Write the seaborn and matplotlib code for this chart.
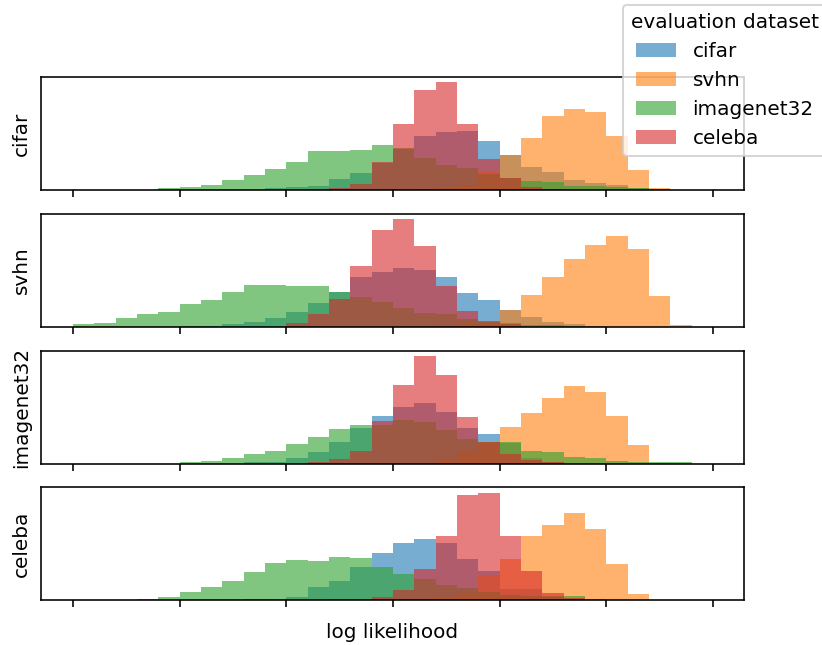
import matplotlib
matplotlib.use("Agg")
import matplotlib.pyplot as plt
from matplotlib.patches import Patch
import numpy as np
import pandas as pd
import seaborn as sns

rows = ["cifar", "svhn", "imagenet32", "celeba"]
datasets = ["cifar", "svhn", "imagenet32", "celeba"]
colors = ["#1f77b4", "#ff7f0e", "#2ca02c", "#d62728"]

# bin edges in log-likelihood units (ticks every 5 bins, no tick labels shown)
bin_edges = list(range(0, 31))
bin_centers = np.array(bin_edges[:-1]) + 0.5

# heights per bin, one list per (row, evaluation dataset)
cifar_row_cifar = [0, 0, 0, 0, 0, 0, 0, 0, 0, 1.5, 2.5, 3.8, 11.2, 16.8, 27, 41, 54.5, 57.8, 59.5, 48.8,
                   35, 22.8, 17.8, 9.5, 6.8, 4.5, 2, 0, 0, 0]
cifar_row_svhn = [0] * 16 + [0.5, 2, 5, 17.5, 35, 52.2, 74.5, 81.8, 78.8, 53.8, 20.2, 2.2, 0, 0]
cifar_row_imagenet32 = [0, 0, 0, 0, 1.8, 2.8, 5.2, 9.5, 15.2, 20.8, 28.2, 39.2, 39.2, 40.5, 44.8, 41.8, 32.2,
                        25.2, 22, 16, 12, 8.5, 7.8, 3.8, 3.8, 2.8, 1.8, 0.8, 0, 0]
cifar_row_celeba = [0] * 11 + [0.5, 1.5, 6.2, 27.8, 66.2, 100.5, 108.5, 66.2, 31.2, 12, 3, 1] + [0] * 7

svhn_row_cifar = [0, 0, 0, 0, 0, 0.5, 1, 2.7, 5, 8.3, 15, 23.7, 34.3, 49.3, 55, 58.3, 56.7, 49.3, 33.3, 26.7,
                  16.7, 10, 5, 2.7, 1.2, 0, 0, 0, 0, 0]
svhn_row_svhn = [0] * 17 + [0.8, 3, 6, 16.7, 32, 49.7, 67.7, 81.7, 90.3, 77.7, 31, 1.5, 0]
svhn_row_imagenet32 = [2.7, 4, 8.3, 12.7, 15, 22.3, 26.7, 35, 42, 42, 41, 40.7, 34.3, 29.3, 24.3, 18.3, 13.7,
                       12.7, 7.7, 5, 3.7, 1.5, 1.5, 0.8, 0, 0, 0, 0, 0, 0]
svhn_row_celeba = [0] * 10 + [3.7, 12.7, 27.7, 60.3, 96.7, 107.7, 80.3, 41, 16, 6, 2.7] + [0] * 9

imagenet32_row_cifar = [0] * 8 + [1.5, 2, 6, 11.6, 21.6, 36, 48.3, 57, 61, 52.6, 36.6, 30, 21, 6, 2] + [0] * 7
imagenet32_row_svhn = [0] * 16 + [1, 5, 12, 21.6, 37.6, 51, 67, 78.3, 72.6, 48.3, 19.3, 0.8, 0, 0]
imagenet32_row_imagenet32 = [0] * 5 + [1.8, 2.8, 6, 10, 12.6, 20, 27, 35.3, 39.6, 39.3, 44.3, 42.6, 34.3, 25.3,
                                       21.6, 21.6, 12.6, 11.6, 7, 6, 3, 2, 2, 1.5, 0]
imagenet32_row_celeba = [0] * 11 + [1.5, 4.3, 12.6, 43.6, 80, 109.3, 90, 47, 21.6, 9.3, 4, 1.2] + [0] * 7

celeba_row_cifar = [0] * 8 + [1, 1.5, 3.3, 14, 19.6, 33.6, 48, 58, 62, 58, 42, 29.6, 12, 12, 4, 1.2] + [0] * 6
celeba_row_svhn = [0] * 16 + [1, 3, 8, 25.3, 42, 64.6, 76, 87.6, 71.6, 36.6, 6.6, 0, 0, 0]
celeba_row_imagenet32 = [0, 0, 0, 1.8, 3.6, 8.3, 14, 19.6, 28.3, 38, 40.6, 39.3, 43.6, 42.3, 33.6, 27, 22, 15.3,
                         12.6, 8.6, 6, 5, 5, 5, 1.8, 0.8, 0, 0, 0, 0]
celeba_row_celeba = [0] * 12 + [1.2, 1.2, 3.6, 11, 32, 64.6, 105.3, 108, 64.6, 29.6, 8, 2] + [0] * 6

heights = {
    "cifar": [cifar_row_cifar, cifar_row_svhn, cifar_row_imagenet32, cifar_row_celeba],
    "svhn": [svhn_row_cifar, svhn_row_svhn, svhn_row_imagenet32, svhn_row_celeba],
    "imagenet32": [imagenet32_row_cifar, imagenet32_row_svhn, imagenet32_row_imagenet32, imagenet32_row_celeba],
    "celeba": [celeba_row_cifar, celeba_row_svhn, celeba_row_imagenet32, celeba_row_celeba],
}

fig, axes = plt.subplots(4, 1, figsize=(822 / 144, 645 / 144), dpi=144, sharex=True)
fig.subplots_adjust(left=0.05, right=0.905, top=0.881, bottom=0.069, hspace=0.21)

for ax, row in zip(axes, rows):
    for values, ds, color in zip(heights[row], datasets, colors):
        df = pd.DataFrame({"ll": bin_centers, "count": values})
        sns.histplot(data=df, x="ll", weights="count", bins=bin_edges, element="step",
                     color=color, alpha=0.6, linewidth=0, ax=ax)
    ax.set_yticks([])
    ax.set_ylabel(row, labelpad=5)
    ax.set_xlabel("")
    ax.set_xticks(np.arange(0, 31, 5))
    ax.tick_params(labelbottom=False)
    ax.set_xlim(-1.5, 31.45)

axes[-1].set_xlabel("log likelihood", labelpad=8)

handles = [Patch(facecolor=c, alpha=0.6, label=d) for d, c in zip(datasets, colors)]
fig.legend(handles=handles, title="evaluation dataset", loc="upper left",
           bbox_to_anchor=(623 / 822, 1 - 5 / 645), borderaxespad=0)

fig.savefig("out.png", dpi=144)
